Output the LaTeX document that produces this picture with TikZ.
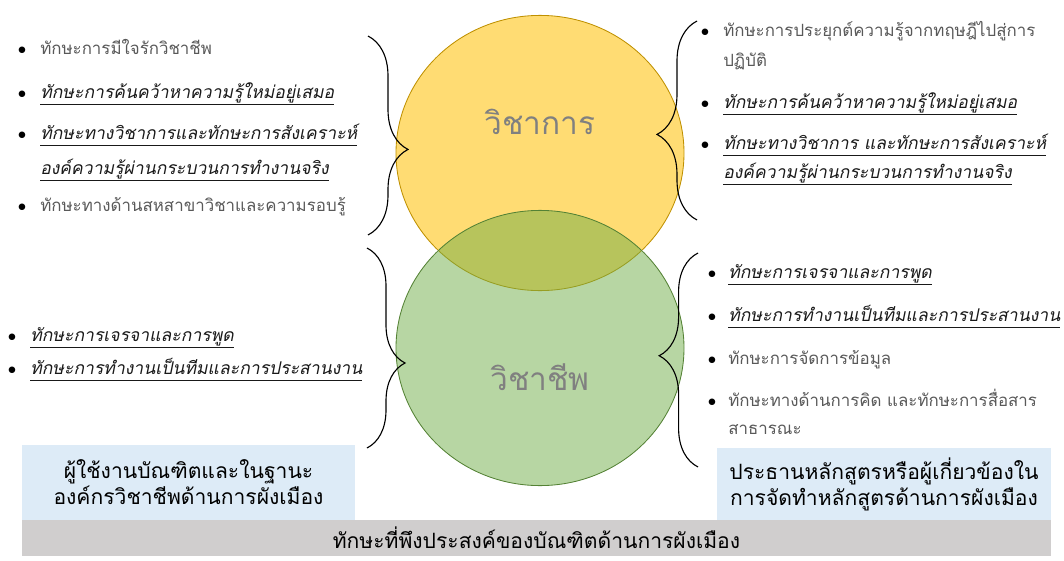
\documentclass[tikz,border=0pt]{standalone}
\usepackage{fontspec}
\usepackage{xcolor}
\usepackage{tikz}
\usetikzlibrary{decorations.pathreplacing}

\newfontfamily\thai[Script=Thai]{Loma}
\newfontfamily\thaiit[Script=Thai,FakeSlant=0.2]{Loma}

\definecolor{sun}{HTML}{FFC000}
\definecolor{sunline}{HTML}{BF9000}
\definecolor{leaf}{HTML}{70AD47}
\definecolor{leafline}{HTML}{548235}
\definecolor{paleblue}{HTML}{DDEBF7}
\definecolor{bargray}{HTML}{D0CECE}
\definecolor{txtgray}{HTML}{595959}

\newcommand{\uthai}[1]{\underline{\raisebox{0pt}[\height][3pt]{#1}}}

\tikzset{
    item/.style={anchor=base west, yshift=-0.16cm, inner sep=0pt,
        text=txtgray, font=\thai\fontsize{12}{15}\selectfont},
    uitem/.style={item, text=black!90, font=\thaiit\fontsize{12.5}{15}\selectfont},
    bul/.style={anchor=base, yshift=-0.16cm, inner sep=0pt,
        font=\fontsize{13}{16}\selectfont},
    brc/.style={decorate, line width=0.8pt},
    boxtext/.style={align=center, text=black, font=\thai\fontsize{15}{18.5}\selectfont},
    ring/.style={text=gray, font=\thai\fontsize{22.5}{27}\selectfont}
}

\begin{document}
\begin{tikzpicture}
                \useasboundingbox (0,0) rectangle (26.6,-14.025);

                % circles
                \draw[
                    line width=0.6pt,
                    draw=sunline,
                    fill=sun,
                    fill opacity=0.55
                    ] (13.5,-3.825) ellipse [x radius=3.6, y radius=3.44];

                \draw[
                    line width=0.6pt,
                    draw=leafline,
                    fill=leaf,
                    fill opacity=0.5
                    ] (13.5,-8.7) ellipse [x radius=3.6, y radius=3.44];

                \node[ring] (vichakan) at (13.5,-3.05) {วิชาการ};
                \node[ring] (vichachip) at (13.5,-9.43) {วิชาชีพ};

                % braces
                \draw[
                    brc,
                    decoration={brace, amplitude=1cm, aspect=0.57}
                    ] (9.2,-0.9) -- (9.2,-5.875);

                \draw[
                    brc,
                    decoration={brace, amplitude=1cm, aspect=0.43}
                    ] (17.425,-5.5) -- (17.425,-0.525);

                \draw[
                    brc,
                    decoration={brace, amplitude=0.95cm, aspect=0.575}
                    ] (9.175,-6.2) -- (9.175,-11.2);

                \draw[
                    brc,
                    decoration={brace, amplitude=0.97cm, aspect=0.52}
                    ] (17.45,-11.675) -- (17.45,-6.325);

                % left top list
                \node[bul] (lt1b) at (0.55,-1.2) {$\bullet$};
                \node[item] (lt1) at (1.0,-1.2) {ทักษะการมีใจรักวิชาชีพ};
                \node[bul] (lt2b) at (0.55,-2.3) {$\bullet$};
                \node[uitem] (lt2) at (1.0,-2.3) {\uthai{ทักษะการค้นคว้าหาความรู้ใหม่อยู่เสมอ}};
                \node[bul] (lt3b) at (0.55,-3.325) {$\bullet$};
                \node[uitem] (lt3) at (1.0,-3.325) {\uthai{ทักษะทางวิชาการและทักษะการสังเคราะห์}};
                \node[uitem] (lt3x) at (1.0,-4.2) {\uthai{องค์ความรู้ผ่านกระบวนการทำงานจริง}};
                \node[bul] (lt4b) at (0.55,-5.125) {$\bullet$};
                \node[item] (lt4) at (1.0,-5.125) {ทักษะทางด้านสหสาขาวิชาและความรอบรู้};

                % right top list
                \node[bul] (rt1b) at (17.625,-0.75) {$\bullet$};
                \node[item] (rt1) at (18.075,-0.75) {ทักษะการประยุกต์ความรู้จากทฤษฎีไปสู่การ};
                \node[item] (rt1x) at (18.075,-1.5) {ปฏิบัติ};
                \node[bul] (rt2b) at (17.625,-2.55) {$\bullet$};
                \node[uitem] (rt2) at (18.075,-2.55) {\uthai{ทักษะการค้นคว้าหาความรู้ใหม่อยู่เสมอ}};
                \node[bul] (rt3b) at (17.625,-3.575) {$\bullet$};
                \node[uitem] (rt3) at (18.075,-3.575) {\uthai{ทักษะทางวิชาการ และทักษะการสังเคราะห์}};
                \node[uitem] (rt3x) at (18.075,-4.3) {\uthai{องค์ความรู้ผ่านกระบวนการทำงานจริง}};

                % left bottom list
                \node[bul] (lb1b) at (0.3,-8.375) {$\bullet$};
                \node[uitem] (lb1) at (0.75,-8.375) {\uthai{ทักษะการเจรจาและการพูด}};
                \node[bul] (lb2b) at (0.3,-9.2) {$\bullet$};
                \node[uitem] (lb2) at (0.75,-9.2) {\uthai{ทักษะการทำงานเป็นทีมและการประสานงาน}};

                % right bottom list
                \node[bul] (rb1b) at (17.8,-6.8) {$\bullet$};
                \node[uitem] (rb1) at (18.2,-6.8) {\uthai{ทักษะการเจรจาและการพูด}};
                \node[bul] (rb2b) at (17.8,-7.875) {$\bullet$};
                \node[uitem] (rb2) at (18.2,-7.875) {\uthai{ทักษะการทำงานเป็นทีมและการประสานงาน}};
                \node[bul] (rb3b) at (17.8,-8.95) {$\bullet$};
                \node[item] (rb3) at (18.2,-8.95) {ทักษะการจัดการข้อมูล};
                \node[bul] (rb4b) at (17.8,-10.0) {$\bullet$};
                \node[item] (rb4) at (18.2,-10.0) {ทักษะทางด้านการคิด และทักษะการสื่อสาร};
                \node[item] (rb4x) at (18.2,-10.7) {สาธารณะ};

                % boxes
                \fill[
                    paleblue
                    ] (0.55,-11.125) rectangle (8.875,-13.0)
                    node[pos=.5, boxtext] (userbox) {ผู้ใช้งานบัณฑิตและในฐานะ\\องค์กรวิชาชีพด้านการผังเมือง};

                \fill[
                    paleblue
                    ] (17.925,-11.2) rectangle (26.275,-13.0)
                    node[pos=.5, boxtext] (chairbox) {ประธานหลักสูตรหรือผู้เกี่ยวข้องใน\\การจัดทำหลักสูตรด้านการผังเมือง};

                \fill[
                    bargray
                    ] (0.55,-13.0) rectangle (26.275,-13.9)
                    node[pos=.5, boxtext] (skillbar) {ทักษะที่พึงประสงค์ของบัณฑิตด้านการผังเมือง};

            \end{tikzpicture}
\end{document}
